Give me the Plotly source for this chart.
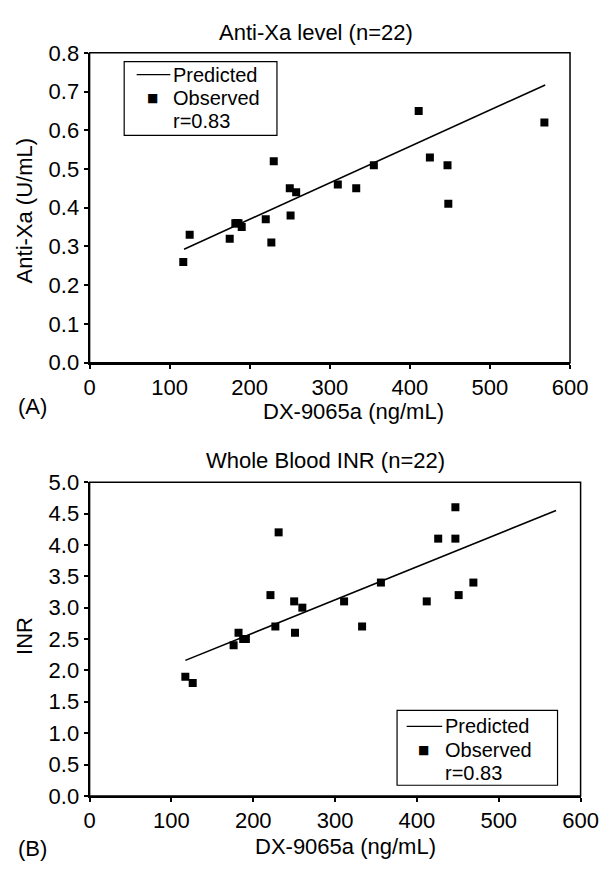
import plotly.graph_objects as go

# ---------------- data ----------------
# Panel A: Anti-Xa level vs DX-9065a
a_x = [117, 125, 175, 182, 184, 186, 190, 220, 227, 230, 250, 251, 258,
       310, 333, 355, 411, 425, 447, 448, 568, 184]
a_y = [0.26, 0.33, 0.32, 0.36, 0.36, 0.36, 0.35, 0.37, 0.31, 0.52, 0.45, 0.38, 0.44,
       0.46, 0.45, 0.51, 0.65, 0.53, 0.51, 0.41, 0.62, 0.36]
a_pred_x = [118, 569]
a_pred_y = [0.293, 0.717]

# Panel B: Whole blood INR vs DX-9065a
b_x = [117, 126, 176, 182, 188, 191, 221, 227, 231, 250, 251, 260,
       311, 333, 356, 412, 426, 447, 447, 451, 469, 188]
b_y = [1.9, 1.8, 2.4, 2.6, 2.5, 2.5, 3.2, 2.7, 4.2, 3.1, 2.6, 3.0,
       3.1, 2.7, 3.4, 3.1, 4.1, 4.1, 4.6, 3.2, 3.4, 2.5]
b_pred_x = [117, 570]
b_pred_y = [2.16, 4.55]

x_ticks = [0, 100, 200, 300, 400, 500, 600]
a_ticks = [0.0, 0.1, 0.2, 0.3, 0.4, 0.5, 0.6, 0.7, 0.8]
b_ticks = [0.0, 0.5, 1.0, 1.5, 2.0, 2.5, 3.0, 3.5, 4.0, 4.5, 5.0]

a_title = "Anti-Xa level (n=22)"
b_title = "Whole Blood INR (n=22)"
x_label = "DX-9065a (ng/mL)"
a_ylabel = "Anti-Xa (U/mL)"
b_ylabel = "INR"
legend_labels = ["Predicted", "Observed", "r=0.83"]

# ---------------- figure ----------------
W, H = 613, 874
FONT = "Liberation Sans, Arial, Helvetica, sans-serif"
FS = 22
LFS = 20

def px(x):
    return x / W

def py(y):
    return 1 - y / H

fig = go.Figure()

fig.add_trace(go.Scatter(x=a_pred_x, y=a_pred_y, mode="lines",
                         line=dict(color="black", width=1.6),
                         xaxis="x", yaxis="y", showlegend=False))
fig.add_trace(go.Scatter(x=a_x, y=a_y, mode="markers",
                         marker=dict(symbol="square", size=8, color="black"),
                         xaxis="x", yaxis="y", showlegend=False))
fig.add_trace(go.Scatter(x=b_pred_x, y=b_pred_y, mode="lines",
                         line=dict(color="black", width=1.6),
                         xaxis="x2", yaxis="y2", showlegend=False))
fig.add_trace(go.Scatter(x=b_x, y=b_y, mode="markers",
                         marker=dict(symbol="square", size=8, color="black"),
                         xaxis="x2", yaxis="y2", showlegend=False))

axis_common = dict(showline=True, linecolor="black", linewidth=2,
                   ticks="outside", ticklen=4, tickwidth=1.5, tickcolor="black",
                   showgrid=False, zeroline=False,
                   tickfont=dict(family=FONT, size=FS, color="black"))

fig.update_layout(
    width=W, height=H,
    margin=dict(l=0, r=0, t=0, b=0),
    paper_bgcolor="white", plot_bgcolor="white",
    font=dict(family=FONT, size=FS, color="black"),
    xaxis=dict(domain=[px(87), px(587)], anchor="y", range=[0, 600],
               tickvals=x_ticks, **axis_common),
    yaxis=dict(domain=[py(361), py(42)], anchor="x", range=[0, 0.8],
               tickvals=a_ticks, tickformat=".1f", **axis_common),
    xaxis2=dict(domain=[px(87), px(598)], anchor="y2", range=[0, 600],
                tickvals=x_ticks, **axis_common),
    yaxis2=dict(domain=[py(807), py(484)], anchor="x2", range=[0, 5.0],
                tickvals=b_ticks, tickformat=".1f", **axis_common),
)

shapes = []
# top/right frame lines
for xa, ya in (("x", "y"), ("x2", "y2")):
    shapes.append(dict(type="rect", xref=f"{xa} domain", yref=f"{ya} domain",
                       x0=0, x1=1, y0=0, y1=1,
                       line=dict(color="black", width=1.5)))

annotations = []

def text(x, y, s, xanchor="center", size=FS, angle=0):
    annotations.append(dict(x=px(x), y=py(y), xref="paper", yref="paper",
                            text=s, showarrow=False, xanchor=xanchor,
                            yanchor="middle", textangle=angle,
                            font=dict(family=FONT, size=size, color="black")))

# titles
text(323, 21, a_title)
text(333, 462, b_title)
# x-axis titles and panel letters
text(362, 411, x_label)
text(353, 859, x_label)
text(28, 406, "(A)")
text(28, 861, "(B)")
# y-axis titles
text(19, 205, a_ylabel, angle=-90)
text(19, 642, b_ylabel, angle=-90)

# legend boxes (pixel layout)
def legend_box(left, top, right, bottom, rows, line_x0, line_x1, sq_x, text_x):
    shapes.append(dict(type="rect", xref="paper", yref="paper",
                       x0=px(left), x1=px(right), y0=py(bottom), y1=py(top),
                       line=dict(color="black", width=1.2), fillcolor="white",
                       layer="above"))
    shapes.append(dict(type="line", xref="paper", yref="paper",
                       x0=px(line_x0), x1=px(line_x1), y0=py(rows[0]), y1=py(rows[0]),
                       line=dict(color="black", width=1.3), layer="above"))
    annotations.append(dict(x=px(sq_x), y=py(rows[1]), xref="paper", yref="paper",
                            text="■", showarrow=False, xanchor="center", yanchor="middle",
                            font=dict(family="DejaVu Sans", size=12, color="black")))
    for r, s in zip(rows, legend_labels):
        text(text_x, r, s, xanchor="left", size=LFS)

legend_box(123, 51, 282, 127, [64.5, 88.5, 112], 136, 171, 152, 172)
legend_box(407, 719, 574, 796, [735.5, 759.5, 783], 417, 454, 435, 455)

fig.update_layout(shapes=shapes, annotations=annotations)

fig.write_html("out.html", config={"displayModeBar": False},
               post_script="document.body.style.margin='0';")
